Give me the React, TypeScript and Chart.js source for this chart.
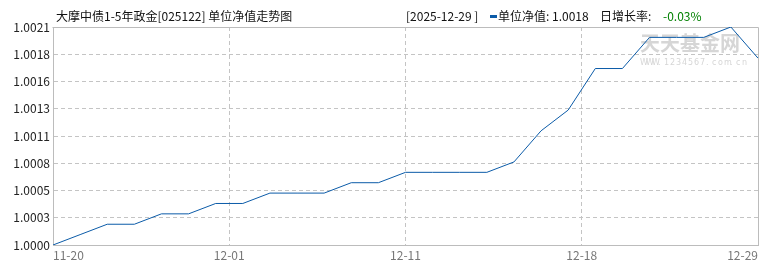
import React, { useEffect, useRef } from "react";
import { Chart, registerables } from "chart.js";

Chart.register(...registerables);

// ---- data ----
const titleText = "大摩中债1-5年政金[025122] 单位净值走势图";
const latestDate = "[2025-12-29 ]";
const seriesName = "单位净值";
const latestNav = "1.0018";
const dailyLabel = "日增长率:";
const dailyChange = "-0.03%";

const navValues = [
  1.0, 1.0001, 1.0002, 1.0002, 1.0003, 1.0003, 1.0004, 1.0004, 1.0005,
  1.0005, 1.0005, 1.0006, 1.0006, 1.0007, 1.0007, 1.0007, 1.0007, 1.0008,
  1.0011, 1.0013, 1.0017, 1.0017, 1.002, 1.002, 1.002, 1.0021, 1.0018,
];
const xTickLabels = ["11-20", "12-01", "12-11", "12-18", "12-29"];
const yTickLabels = [
  "1.0000", "1.0003", "1.0005", "1.0008", "1.0011",
  "1.0013", "1.0016", "1.0018", "1.0021",
];
const yMin = 1.0;
const yMax = 1.0021;

const FONT = "'Noto Sans CJK SC', 'DejaVu Sans', sans-serif";
const LINE_COLOR = "#0b5ba8";
const GRID_COLOR = "#c4c4c4";
const BORDER_COLOR = "#bcbcbc";

export default function App() {
  const ref = useRef<HTMLCanvasElement | null>(null);

  useEffect(() => {
    if (!ref.current) return;
    const n = navValues.length - 1;

    const framePlugin = {
      id: "frameAndWatermark",
      beforeDatasetsDraw(chart: any) {
        const { ctx, chartArea } = chart;
        const { left, right, top, bottom } = chartArea;
        ctx.save();
        // watermark
        ctx.fillStyle = "#d6d6d6";
        ctx.font = `bold 20px ${FONT}`;
        ctx.textAlign = "left";
        ctx.textBaseline = "top";
        ctx.fillText("天天基金网", right - 118, top + 6);
        ctx.font = `8px 'DejaVu Sans', sans-serif`;
        const wm = "WWW.1234567.com.cn";
        let x = right - 118;
        for (const ch of wm) {
          ctx.fillText(ch, x, top + 32);
          x += 6;
        }
        // frame (top and right)
        ctx.strokeStyle = BORDER_COLOR;
        ctx.lineWidth = 1;
        ctx.beginPath();
        ctx.moveTo(Math.round(left) - 0.5, Math.round(top) + 0.5);
        ctx.lineTo(Math.round(right) + 0.5, Math.round(top) + 0.5);
        ctx.lineTo(Math.round(right) + 0.5, Math.round(bottom) + 0.5);
        ctx.stroke();
        ctx.restore();
      },
    };

    const chart = new Chart(ref.current, {
      type: "line",
      data: {
        datasets: [
          {
            label: seriesName,
            data: navValues.map((v, i) => ({ x: i, y: v })),
            borderColor: LINE_COLOR,
            borderWidth: 1,
            pointRadius: 0,
            tension: 0,
            fill: false,
          },
        ],
      },
      options: {
        animation: false,
        responsive: false,
        maintainAspectRatio: false,
        devicePixelRatio: 1,
        layout: { padding: { top: 27, right: 12, left: 0, bottom: 0 } },
        plugins: {
          legend: { display: false },
          tooltip: { enabled: false },
          title: { display: false },
        },
        scales: {
          x: {
            type: "linear",
            min: 0,
            max: n,
            afterBuildTicks: (axis: any) => {
              axis.ticks = xTickLabels.map((_, i) => ({
                value: (i * n) / (xTickLabels.length - 1),
              }));
            },
            afterFit: (s: any) => {
              s.height = 25;
            },
            ticks: {
              callback: (_v: any, i: number) => xTickLabels[i],
              color: "#777",
              font: { family: FONT, size: 12 },
              maxRotation: 0,
              autoSkip: false,
              align: "inner",
              padding: 3,
            },
            grid: {
              color: (c: any) =>
                c.index === 0 || c.index === xTickLabels.length - 1
                  ? "rgba(0,0,0,0)"
                  : GRID_COLOR,
              drawTicks: false,
              lineWidth: 1,
            },
            border: { display: true, color: BORDER_COLOR, width: 1, dash: [4, 3] },
          },
          y: {
            type: "linear",
            min: yMin,
            max: yMax,
            afterBuildTicks: (axis: any) => {
              axis.ticks = yTickLabels.map((_, i) => ({
                value: yMin + (i * (yMax - yMin)) / (yTickLabels.length - 1),
              }));
            },
            afterFit: (s: any) => {
              s.width = 53;
            },
            ticks: {
              callback: (_v: any, i: number) => yTickLabels[i],
              color: "#222",
              font: { family: FONT, size: 12 },
              padding: 3,
            },
            grid: {
              color: (c: any) =>
                c.index === 0 || c.index === yTickLabels.length - 1
                  ? "rgba(0,0,0,0)"
                  : GRID_COLOR,
              drawTicks: false,
              lineWidth: 1,
            },
            border: { display: true, color: BORDER_COLOR, width: 1, dash: [4, 3] },
          },
        },
      },
      plugins: [framePlugin],
    } as any);

    return () => chart.destroy();
  }, []);

  const textStyle: React.CSSProperties = {
    position: "absolute",
    top: 8,
    fontFamily: FONT,
    fontSize: 12,
    lineHeight: "16px",
    color: "#111",
    whiteSpace: "pre",
  };

  return (
    <div
      style={{
        position: "fixed",
        left: 0,
        top: 0,
        width: 770,
        height: 270,
        background: "#fff",
      }}
    >
      <canvas ref={ref} width={770} height={270} style={{ display: "block" }} />
      <span style={{ ...textStyle, left: 56 }}>{titleText}</span>
      <span style={{ ...textStyle, left: 406 }}>{latestDate}</span>
      <div
        style={{
          position: "absolute",
          left: 490,
          top: 15,
          width: 7,
          height: 3,
          background: LINE_COLOR,
        }}
      />
      <span style={{ ...textStyle, left: 498 }}>{`${seriesName}: ${latestNav}`}</span>
      <span style={{ ...textStyle, left: 600 }}>{dailyLabel}</span>
      <span style={{ ...textStyle, left: 663, color: "#008000" }}>{dailyChange}</span>
    </div>
  );
}
